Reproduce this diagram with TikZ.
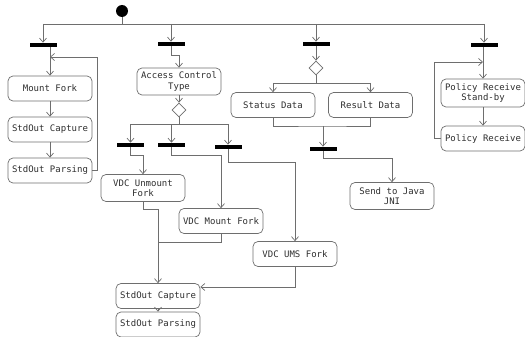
\documentclass[tikz,border=0pt]{standalone}
\usepackage{fontspec}
\setmonofont{DejaVu Sans Mono}
\usetikzlibrary{positioning,arrows.meta,shapes.geometric}
\definecolor{linegray}{HTML}{6E6E6E}
\definecolor{textgray}{HTML}{2E2E2E}

\begin{document}
\begin{tikzpicture}[x=1pt,y=-1pt,line width=0.7pt,
  act/.style={draw=linegray,rounded corners=5pt,minimum width=84pt,minimum height=25pt,inner sep=2pt,align=center,text=textgray,font=\ttfamily\fontsize{9}{10.5}\selectfont},
  bar/.style={fill=black,minimum width=27pt,minimum height=4pt,inner sep=0pt},
  choice/.style={draw=linegray,diamond,minimum width=14pt,minimum height=14pt,inner sep=0pt},
  flow/.style={draw=linegray,-{Straight Barb[length=4pt,width=7pt]}},
  wire/.style={draw=linegray},
]
\useasboundingbox (0,0) rectangle (525,337);
% start and the first split
\node[circle,fill=black,minimum size=12pt,inner sep=0pt] (start) at (122,11) {};
\coordinate (split) at (122,24);
\node[bar] (fork1) at (43,45) {};
\node[bar] (fork2) at (171,44) {};
\node[bar] (fork3) at (316,44) {};
\node[bar] (fork4) at (484,45) {};
\draw[wire] (start) -- (split);
\draw[wire] (fork1 |- split) -- (fork4 |- split);
\foreach \f in {fork1,fork2,fork3,fork4} {\draw[flow] (\f |- split) -- (\f);}

% mount fork column
\node[act] (mount) at (50,88.5) {Mount Fork};
\node[act] (capA) at (50,129.5) {StdOut Capture};
\node[act] (parseA) at (50,170.5) {StdOut Parsing};
\coordinate (loopA) at (97,57);
\draw[flow] (mount |- fork1.south) -- (mount);
\draw[flow] (mount) -- (capA);
\draw[flow] (capA) -- (parseA);
\draw[flow] (parseA.east) -| (loopA) -- (loopA -| mount);

% access control column
\node[act,minimum height=27pt] (access) at (179,81.5) {Access Control\\Type};
\node[choice] (choiceA) at (179,110) {};
\coordinate (splitB) at (179,124);
\node[bar] (forkA) at (130.5,145) {};
\node[bar] (forkB) at (171.5,145) {};
\node[bar] (forkC) at (228,147) {};
\draw[flow] (fork2.south) -- ++(0,9) -| (access.north);
\draw[flow] (access) -- (choiceA);
\draw[wire] (choiceA.south) -- (splitB);
\draw[wire] (forkA |- splitB) -- (forkC |- splitB);
\foreach \f in {forkA,forkB,forkC} {\draw[flow] (\f |- splitB) -- (\f);}
\node[act,minimum height=27pt] (unmount) at (143,188) {VDC Unmount\\Fork};
\node[act] (vmount) at (221,221) {VDC Mount Fork};
\node[act] (ums) at (295,254) {VDC UMS Fork};
\draw[flow] (forkA.south) -- ++(0,8) -| (unmount.north);
\draw[flow] (forkB.south) -- ++(0,8) -| (vmount.north);
\draw[flow] (forkC.south) -- ++(0,13) -| (ums.north);
\node[act] (capB) at (158,296) {StdOut Capture};
\node[act] (parseB) at (158,324.5) {StdOut Parsing};
\coordinate (mergeB) at (158,242);
\draw[flow] (unmount.south) -- ++(0,7) -| (capB.north);
\draw[wire] (vmount.south) |- (mergeB);
\draw[flow] (ums.south) |- ([yshift=9pt]capB.east);
\draw[flow] (capB) -- (parseB);

% status / result column
\node[choice] (choiceC) at (316,68) {};
\coordinate (splitC) at (316,83);
\node[act] (status) at (273,105) {Status Data};
\node[act] (result) at (370.5,105) {Result Data};
\coordinate (joinC) at (323,126);
\node[bar] (fork5) at (323,149) {};
\node[act,minimum height=27pt] (java) at (392,196) {Send to Java\\JNI};
\draw[flow] (fork3) -- (choiceC);
\draw[wire] (choiceC.south) -- (splitC);
\draw[wire] (status |- splitC) -- (result |- splitC);
\draw[flow] (status |- splitC) -- (status);
\draw[flow] (result |- splitC) -- (result);
\draw[wire] (status.south) |- (joinC) -| (result.south);
\draw[flow] (joinC) -- (fork5);
\draw[flow] (fork5.south) -- ++(0,7) -| (java.north);

% policy column
\node[act,minimum height=28pt] (standby) at (483,93) {Policy Receive\\Stand-by};
\node[act] (polrec) at (483,138.5) {Policy Receive};
\coordinate (loopD) at (434,62);
\draw[flow] (standby |- fork4.south) -- (standby);
\draw[flow] (standby) -- (polrec);
\draw[flow] (polrec.west) -| (loopD) -- (loopD -| standby);
\end{tikzpicture}
\end{document}
